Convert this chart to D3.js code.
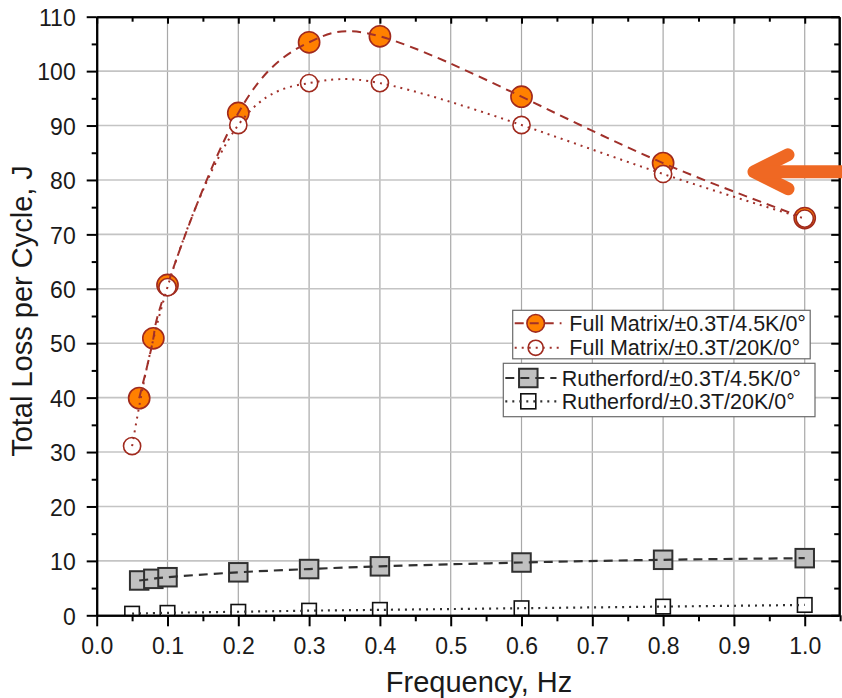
<!DOCTYPE html>
<html>
<head>
<meta charset="utf-8">
<script src="https://cdn.jsdelivr.net/npm/d3@7"></script>
<style>
  html, body { margin: 0; padding: 0; background: #fff; }
  svg { display: block; font-family: "Liberation Sans", Arial, Helvetica, sans-serif; }
</style>
</head>
<body>
<svg id="chart" width="842" height="698"></svg>
<script>
// Frequency (Hz) and total loss per cycle (J) for each sample / temperature
const fullMatrix45X = [0.06, 0.08, 0.1, 0.2, 0.3, 0.4, 0.6, 0.8, 1.0];
const fullMatrix45Y = [39.9, 50.9, 60.7, 92.3, 105.3, 106.4, 95.3, 83.1, 73.0];
const fullMatrix20X = [0.05, 0.1, 0.2, 0.3, 0.4, 0.6, 0.8, 1.0];
const fullMatrix20Y = [31.1, 60.3, 90.1, 97.8, 97.8, 90.1, 81.1, 72.9];
const rutherford45X = [0.06, 0.08, 0.1, 0.2, 0.3, 0.4, 0.6, 0.8, 1.0];
const rutherford45Y = [6.4, 6.7, 7.0, 7.9, 8.5, 9.0, 9.7, 10.2, 10.5];
const rutherford20X = [0.05, 0.1, 0.2, 0.3, 0.4, 0.6, 0.8, 1.0];
const rutherford20Y = [0.3, 0.45, 0.65, 0.85, 1.0, 1.3, 1.6, 1.9];

const seriesNames = [
  "Full Matrix/±0.3T/4.5K/0°",
  "Full Matrix/±0.3T/20K/0°",
  "Rutherford/±0.3T/4.5K/0°",
  "Rutherford/±0.3T/20K/0°"
];

const xTickValues = [0, 0.1, 0.2, 0.3, 0.4, 0.5, 0.6, 0.7, 0.8, 0.9, 1.0];
const xMinorValues = [0.05, 0.15, 0.25, 0.35, 0.45, 0.55, 0.65, 0.75, 0.85, 0.95, 1.05];
const yTickValues = [0, 10, 20, 30, 40, 50, 60, 70, 80, 90, 100, 110];
const yMinorValues = [5, 15, 25, 35, 45, 55, 65, 75, 85, 95, 105];

const xTitle = "Frequency, Hz";
const yTitle = "Total Loss per Cycle, J";

// ---- layout ----
const plot = { left: 96.7, right: 839.2, top: 16.7, bottom: 615.3 };
const svg = d3.select("#chart");

const x = d3.scaleLinear().domain([0, 1.0487]).range([plot.left, plot.right]);
const y = d3.scaleLinear().domain([0, 110]).range([plot.bottom, plot.top]);

// ---- grid ----
const grid = svg.append("g");
grid.selectAll("line.gx").data(xTickValues.filter(v => v > 0)).join("line")
  .attr("x1", d => x(d)).attr("x2", d => x(d))
  .attr("y1", plot.top).attr("y2", plot.bottom)
  .attr("stroke", "#a8a8a8").attr("stroke-width", 1.2);
grid.selectAll("line.gy").data(yTickValues.filter(v => v > 0 && v < 110)).join("line")
  .attr("x1", plot.left).attr("x2", plot.right)
  .attr("y1", d => y(d)).attr("y2", d => y(d))
  .attr("stroke", "#c4c4c4").attr("stroke-width", 1.6);

// ---- data layers ----
svg.append("defs").append("clipPath").attr("id", "plotClip")
  .append("rect")
  .attr("x", plot.left).attr("y", plot.top)
  .attr("width", plot.right - plot.left).attr("height", plot.bottom - plot.top);

const dataLayer = svg.append("g").attr("clip-path", "url(#plotClip)");

const lineGen = d3.line().x(d => x(d[0])).y(d => y(d[1])).curve(d3.curveNatural);
const zipPts = (xs, ys) => xs.map((v, i) => [v, ys[i]]);

const series = [
  { pts: zipPts(rutherford45X, rutherford45Y), shape: "square", size: 18.5, fill: "#c0c0c0", edge: "#303030", edgeW: 2,
    line: "#303030", lineW: 2.2, dash: "9,6" },
  { pts: zipPts(rutherford20X, rutherford20Y), shape: "square", size: 14.5, fill: "#ffffff", edge: "#111111", edgeW: 1.6,
    line: "#303030", lineW: 2.2, dash: "2,5" },
  { pts: zipPts(fullMatrix45X, fullMatrix45Y), shape: "circle", size: 10.6, fill: "#ff8000", edge: "#a02a1e", edgeW: 1.6,
    line: "#a0302a", lineW: 2, dash: "9,6" },
  { pts: zipPts(fullMatrix20X, fullMatrix20Y), shape: "circle", size: 8.6, fill: "#ffffff", edge: "#a02a1e", edgeW: 1.6,
    line: "#a0302a", lineW: 2, dash: "2,5" }
];

function drawMarkers(g, s, pts) {
  if (s.shape === "circle") {
    g.selectAll(null).data(pts).join("circle")
      .attr("cx", d => x(d[0])).attr("cy", d => y(d[1])).attr("r", s.size)
      .attr("fill", s.fill).attr("stroke", s.edge).attr("stroke-width", s.edgeW);
  } else {
    g.selectAll(null).data(pts).join("rect")
      .attr("x", d => x(d[0]) - s.size / 2).attr("y", d => y(d[1]) - s.size / 2)
      .attr("width", s.size).attr("height", s.size)
      .attr("fill", s.fill).attr("stroke", s.edge).attr("stroke-width", s.edgeW);
  }
}

series.forEach(s => {
  const g = dataLayer.append("g");
  drawMarkers(g, s, s.pts);
  g.append("path").datum(s.pts)
    .attr("d", lineGen)
    .attr("fill", "none").attr("stroke", s.line).attr("stroke-width", s.lineW)
    .attr("stroke-dasharray", s.dash).attr("stroke-linecap", "butt");
});

// ---- axes ----
function styleAxis(g) {
  g.select(".domain").attr("stroke", "#000").attr("stroke-width", 2);
  g.selectAll(".tick line").attr("stroke", "#000").attr("stroke-width", 2);
  g.selectAll(".tick text").attr("fill", "#1a1a1a").style("font-size", "23px");
}
const fmtX = d3.format(".1f");

// bottom
svg.append("g").attr("transform", `translate(0,${plot.bottom})`)
  .call(d3.axisBottom(x).tickValues(xMinorValues).tickSize(6).tickSizeOuter(0).tickFormat(""))
  .call(styleAxis);
svg.append("g").attr("transform", `translate(0,${plot.bottom})`)
  .call(d3.axisBottom(x).tickValues(xTickValues).tickSize(11).tickSizeOuter(0).tickPadding(11).tickFormat(fmtX))
  .call(styleAxis)
  .call(g => g.selectAll(".tick text").attr("dy", "0.71em"));

// top (ticks inward)
svg.append("g").attr("transform", `translate(0,${plot.top})`)
  .call(d3.axisTop(x).tickValues(xMinorValues.filter(v => v < 1.04)).tickSize(-5).tickSizeOuter(0).tickFormat(""))
  .call(styleAxis);
svg.append("g").attr("transform", `translate(0,${plot.top})`)
  .call(d3.axisTop(x).tickValues(xTickValues).tickSize(-7).tickSizeOuter(0).tickFormat(""))
  .call(styleAxis);

// left
svg.append("g").attr("transform", `translate(${plot.left},0)`)
  .call(d3.axisLeft(y).tickValues(yMinorValues).tickSize(5).tickSizeOuter(0).tickFormat(""))
  .call(styleAxis);
svg.append("g").attr("transform", `translate(${plot.left},0)`)
  .call(d3.axisLeft(y).tickValues(yTickValues).tickSize(10).tickSizeOuter(0).tickPadding(11).tickFormat(d3.format("d")))
  .call(styleAxis)
  .call(g => g.selectAll(".tick text").attr("dy", "0.38em"));

// right (ticks inward)
svg.append("g").attr("transform", `translate(${plot.right},0)`)
  .call(d3.axisRight(y).tickValues(yMinorValues).tickSize(-5).tickSizeOuter(0).tickFormat(""))
  .call(styleAxis);
svg.append("g").attr("transform", `translate(${plot.right},0)`)
  .call(d3.axisRight(y).tickValues(yTickValues).tickSize(-8).tickSizeOuter(0).tickFormat(""))
  .call(styleAxis);

// axis titles
svg.append("text")
  .attr("x", 479).attr("y", 691.5)
  .attr("text-anchor", "middle")
  .attr("fill", "#1a1a1a").style("font-size", "29px")
  .text(xTitle);
svg.append("text")
  .attr("transform", "translate(31.7,311) rotate(-90)")
  .attr("text-anchor", "middle")
  .attr("fill", "#1a1a1a").style("font-size", "29px")
  .text(yTitle);

// ---- legends ----
const legendBoxes = [
  { x: 512.7, y: 310.3, w: 297.5, h: 48.5, symX: 535.7, lineX0: 512.7, lineX1: 561.5, textX: 569.3,
    rows: [{ s: 2, cy: 323.3, r: 8.8, sz: 0 }, { s: 3, cy: 347.8, r: 7.6, sz: 0 }], names: [0, 1] },
  { x: 503.3, y: 363.3, w: 311.7, h: 53.4, symX: 528.3, lineX0: 503.3, lineX1: 556.5, textX: 561.7,
    rows: [{ s: 0, cy: 378, sz: 18.5 }, { s: 1, cy: 401.3, sz: 15 }], names: [2, 3] }
];

legendBoxes.forEach(b => {
  const g = svg.append("g");
  g.append("rect").attr("x", b.x).attr("y", b.y).attr("width", b.w).attr("height", b.h)
    .attr("fill", "#fff").attr("stroke", "#6a6a6a").attr("stroke-width", 1.2);
  b.rows.forEach((row, i) => {
    const s = series[row.s];
    if (s.shape === "circle") {
      g.append("circle").attr("cx", b.symX).attr("cy", row.cy).attr("r", row.r)
        .attr("fill", s.fill).attr("stroke", s.edge).attr("stroke-width", s.edgeW);
    } else {
      g.append("rect").attr("x", b.symX - row.sz / 2).attr("y", row.cy - row.sz / 2)
        .attr("width", row.sz).attr("height", row.sz)
        .attr("fill", s.fill).attr("stroke", s.edge).attr("stroke-width", s.edgeW);
    }
    g.append("line").attr("x1", b.lineX0 + 2).attr("x2", b.lineX1)
      .attr("y1", row.cy).attr("y2", row.cy)
      .attr("stroke", s.line).attr("stroke-width", s.lineW).attr("stroke-dasharray", s.dash);
    g.append("text").attr("x", b.textX).attr("y", row.cy + 7.5)
      .attr("fill", "#1a1a1a").style("font-size", "21.5px")
      .text(seriesNames[b.names[i]]);
  });
});

// ---- annotation arrow ----
const arrowPts = { tipX: 754, tipY: 171.8, armX: 788, armDY: 17, tailX: 860 };
const arrow = svg.append("g").attr("fill", "none").attr("stroke", "#ef6823")
  .attr("stroke-width", 13).attr("stroke-linecap", "round").attr("stroke-linejoin", "round");
arrow.append("path").attr("d",
  `M${arrowPts.armX},${arrowPts.tipY - arrowPts.armDY} L${arrowPts.tipX},${arrowPts.tipY} L${arrowPts.armX},${arrowPts.tipY + arrowPts.armDY}`);
arrow.append("path").attr("d", `M${arrowPts.tipX},${arrowPts.tipY} L${arrowPts.tailX},${arrowPts.tipY}`)
  .attr("stroke-linecap", "butt");
</script>
</body>
</html>
